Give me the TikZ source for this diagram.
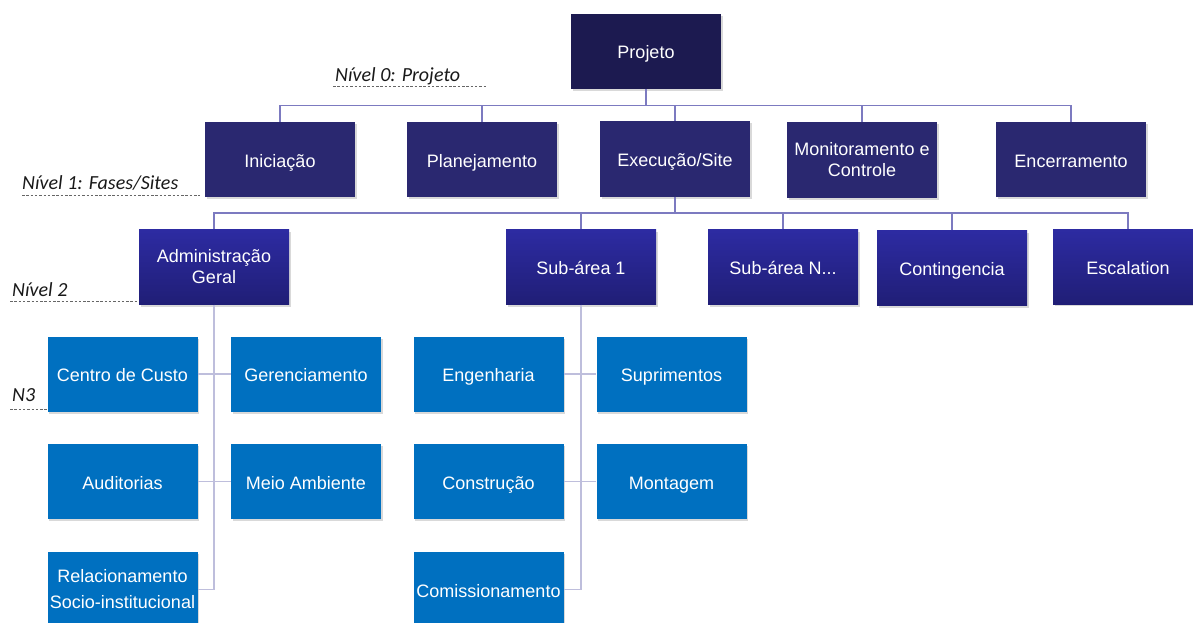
\documentclass[tikz,border=0pt]{standalone}
\usepackage{fontspec}
\setmainfont{Liberation Sans}
\newfontfamily\calib{Carlito}
\usetikzlibrary{shadows}
\definecolor{c0}{RGB}{28,26,80}
\definecolor{c1}{RGB}{42,40,112}
\definecolor{c2t}{RGB}{45,43,162}
\definecolor{c2b}{RGB}{32,30,118}
\definecolor{c3}{RGB}{0,112,192}
\definecolor{linkc}{RGB}{124,122,192}
\definecolor{linkd}{RGB}{190,190,220}
\tikzset{
  base/.style={rectangle, minimum width=150pt, minimum height=75pt, text=white,
    font=\fontsize{18}{21}\selectfont, align=center, inner sep=2pt,
    drop shadow={opacity=0.3, shadow xshift=1.5pt, shadow yshift=-2pt}},
  oneline/.style={text height=18pt, text depth=3pt},
  lzero/.style={base, fill=c0},
  lone/.style={base, fill=c1},
  ltwo/.style={base, top color=c2t, bottom color=c2b},
  lthree/.style={base, fill=c3},
  link/.style={draw=linkc, line width=1.6pt},
  linkb/.style={draw=linkd, line width=1.4pt},
  lvl/.style={font=\calib\itshape\fontsize{20}{23}\selectfont, text=black!90, anchor=base west, inner sep=0pt},
  lvlline/.style={draw=black!60, dash pattern=on 2.5pt off 1.8pt, line width=0.8pt},
}
\begin{document}
\begin{tikzpicture}[x=1pt,y=-1pt]
\useasboundingbox (0,0) rectangle (1193,623);
\clip (0,0) rectangle (1193,623);
% level labels
\node[lvl] (t0) at (335,82) {Nível 0: Projeto};
\node[lvl] (t1) at (22,189) {Nível 1: Fases/Sites};
\node[lvl] (t2) at (12,296) {Nível 2};
\node[lvl] (t3) at (12,401) {N3};
\coordinate (d0a) at (333,86); \coordinate (d0b) at (487,86);
\coordinate (d1a) at (22,195); \coordinate (d1b) at (200,195);
\coordinate (d2a) at (10,301); \coordinate (d2b) at (139,301);
\coordinate (d3a) at (10,409); \coordinate (d3b) at (47,409);
\draw[lvlline] (d0a) -- (d0b);
\draw[lvlline] (d1a) -- (d1b);
\draw[lvlline] (d2a) -- (d2b);
\draw[lvlline] (d3a) -- (d3b);

% nodes
\node[lzero, oneline] (proj) at (646,51.5) {Projeto};
\node[lone, oneline] (ini) at (280,159.5) {Iniciação};
\node[lone, oneline] (plan) at (482,159.5) {Planejamento};
\node[lone, oneline] (exec) at (675,159) {Execução/Site};
\node[lone] (mon) at (862,160) {Monitoramento e\\Controle};
\node[lone, oneline] (enc) at (1071,159.5) {Encerramento};

\node[ltwo] (adm) at (214,267) {Administração\\Geral};
\node[ltwo, oneline] (sub1) at (581,267) {Sub-área 1};
\node[ltwo, oneline] (subn) at (783,267) {Sub-área N...};
\node[ltwo, oneline] (cont) at (952,268) {Contingencia};
\node[ltwo, oneline] (esc) at (1128,266.5) {Escalation};

\node[lthree, oneline] (cc) at (122.5,374) {Centro de Custo};
\node[lthree, oneline] (ger) at (306,374) {Gerenciamento};
\node[lthree, oneline] (aud) at (122.5,481.5) {Auditorias};
\node[lthree, oneline] (meio) at (306,481.5) {Meio Ambiente};
\node[lthree] (rel) at (122.5,589.5) {Relacionamento\\[5pt]Socio-institucional};

\node[lthree, oneline] (eng) at (488.5,374) {Engenharia};
\node[lthree, oneline] (sup) at (671.5,374) {Suprimentos};
\node[lthree, oneline] (cons) at (488.5,481.5) {Construção};
\node[lthree, oneline] (mont) at (671.5,481.5) {Montagem};
\node[lthree, oneline] (com) at (488.5,589.5) {Comissionamento};

% connectors level 0 -> 1
\coordinate (b1) at (0,105.5);
\draw[link] (proj.south) -- (proj.south |- b1) -- (exec.north |- b1) -- (exec.north);
\draw[link] (ini.north) -- (ini.north |- b1) -- (enc.north |- b1) -- (enc.north);
\draw[link] (plan.north) -- (plan.north |- b1);
\draw[link] (mon.north) -- (mon.north |- b1);

% level 1 -> 2
\coordinate (b2) at (0,213);
\draw[link] (exec.south) -- (exec.south |- b2);
\draw[link] (adm.north) -- (adm.north |- b2) -- (esc.north |- b2) -- (esc.north);
\draw[link] (sub1.north) -- (sub1.north |- b2);
\draw[link] (subn.north) -- (subn.north |- b2);
\draw[link] (cont.north) -- (cont.north |- b2);

% level 2 -> 3 (admin)
\draw[linkb] (adm.south) -- (adm.south |- rel.east) -- (rel.east);
\draw[linkb] (cc.east) -- (ger.west);
\draw[linkb] (aud.east) -- (meio.west);
% level 2 -> 3 (sub-area 1)
\draw[linkb] (sub1.south) -- (sub1.south |- com.east) -- (com.east);
\draw[linkb] (eng.east) -- (sup.west);
\draw[linkb] (cons.east) -- (mont.west);
\end{tikzpicture}
\end{document}
